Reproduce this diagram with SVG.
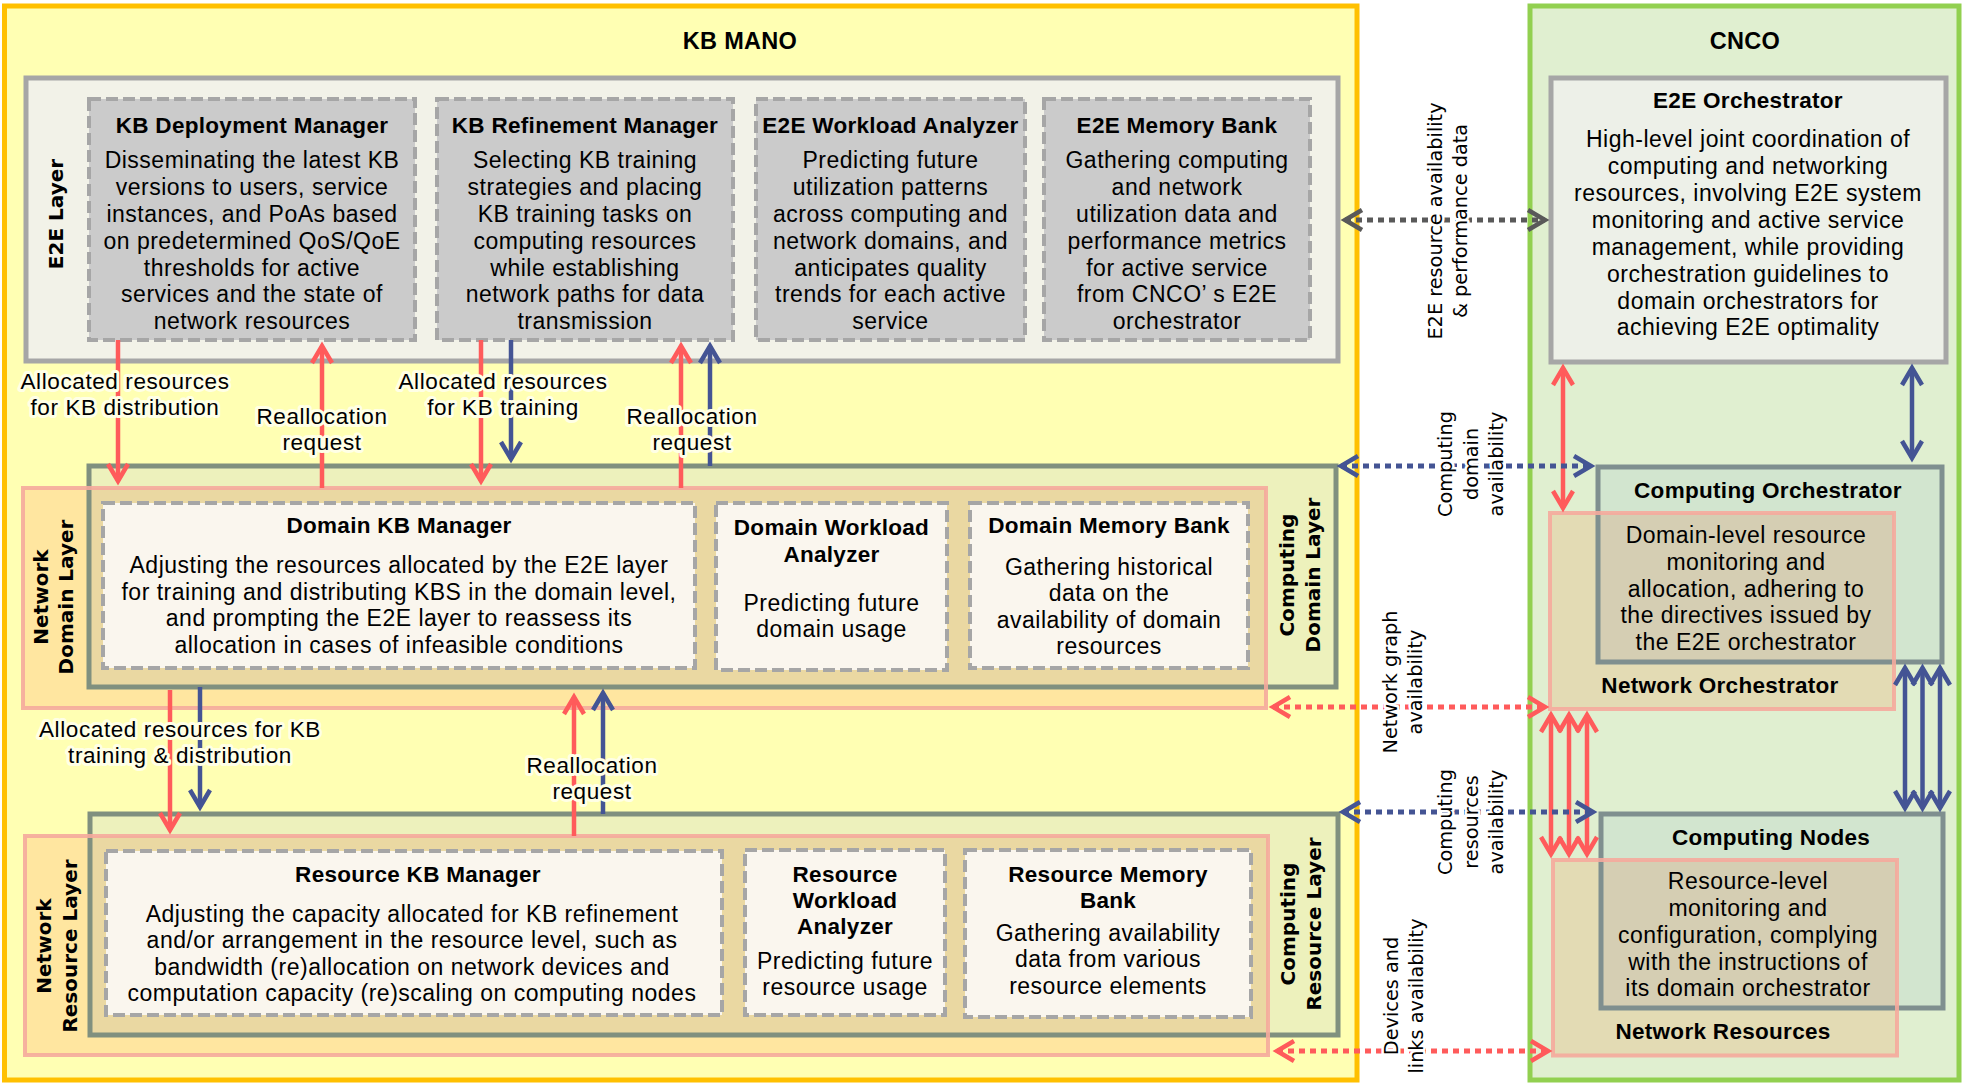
<svg xmlns="http://www.w3.org/2000/svg" width="1964" height="1085" viewBox="0 0 1964 1085">
<defs>
<style>
.t{font-family:"Liberation Sans","Arial",sans-serif;font-size:23px;letter-spacing:0.5px;fill:#000;text-anchor:middle}
.b{font-weight:bold;font-size:22.5px;letter-spacing:0.3px}
.lb{font-size:22.5px;letter-spacing:0.6px}
.big{font-weight:bold;font-size:23.5px;letter-spacing:0.3px}
.v{font-family:"DejaVu Sans","Verdana","Liberation Sans",sans-serif;font-size:19.3px;fill:#000;text-anchor:middle}
.vb{font-weight:bold;font-size:20px}
.hy{stroke:#FFFFE6;stroke-width:6;stroke-linejoin:round;paint-order:stroke}
.hw{stroke:#FFFFFF;stroke-width:5;stroke-linejoin:round;paint-order:stroke}
.gbox{fill:#CBCBCB;stroke:#A6A6A6;stroke-width:4;stroke-dasharray:12 5}
.wbox{fill:#FAF6EE;stroke:#A6A6A6;stroke-width:4;stroke-dasharray:12 5}
.cl{fill:none;stroke:#80907F;stroke-width:5}
.nl{fill:none;stroke:#F5AA9C;stroke-width:4;stroke-opacity:0.9}
.co{fill:none;stroke:#7F8F8F;stroke-width:5}
.r{stroke:#FF5B5B;stroke-width:4.5;fill:none}
.u{stroke:#445494;stroke-width:4.5;fill:none}
.dr{stroke:#FF5B5B;stroke-width:5;fill:none;stroke-dasharray:6 5}
.du{stroke:#445494;stroke-width:5;fill:none;stroke-dasharray:6 5}
.dg{stroke:#595959;stroke-width:5;fill:none;stroke-dasharray:6 5}
</style>
<marker id="mr" viewBox="-22 -14 30 28" refX="0" refY="0" markerWidth="30" markerHeight="28" markerUnits="userSpaceOnUse" orient="auto-start-reverse" overflow="visible"><path d="M-17,-10 L0,0 L-17,10" fill="none" stroke="#FF5B5B" stroke-width="4.5"/></marker>
<marker id="mu" viewBox="-22 -14 30 28" refX="0" refY="0" markerWidth="30" markerHeight="28" markerUnits="userSpaceOnUse" orient="auto-start-reverse" overflow="visible"><path d="M-17,-10 L0,0 L-17,10" fill="none" stroke="#445494" stroke-width="4.5"/></marker>
<marker id="mg" viewBox="-22 -14 30 28" refX="0" refY="0" markerWidth="30" markerHeight="28" markerUnits="userSpaceOnUse" orient="auto-start-reverse" overflow="visible"><path d="M-17,-10 L0,0 L-17,10" fill="none" stroke="#595959" stroke-width="4.5"/></marker>
</defs>
<rect width="1964" height="1085" fill="#FFFFFF"/>

<g id="kb-mano">
<rect x="4.5" y="6" width="1352.5" height="1074" fill="#FFFFB3" stroke="#FFC000" stroke-width="5"/>
<text class="t big" x="740" y="49">KB MANO</text>
</g>

<g id="cnco">
<rect x="1530" y="6" width="429" height="1074" fill="#E0EFD0" stroke="#92D050" stroke-width="5"/>
<text class="t big" x="1745" y="49">CNCO</text>
</g>

<g id="e2e-layer">
<rect x="26" y="78" width="1312" height="283" fill="#F2F2E8" stroke="#A6A6A6" stroke-width="5"/>
<text class="v vb" transform="translate(63,214) rotate(-90)">E2E Layer</text>
</g>

<g id="kb-deployment-manager">
<rect class="gbox" x="89" y="99" width="326" height="241"/>
<text class="t b" x="252" y="133">KB Deployment Manager</text>
<text class="t"><tspan x="252" y="168">Disseminating the latest KB</tspan><tspan x="252" y="195">versions to users, service</tspan><tspan x="252" y="222">instances, and PoAs based</tspan><tspan x="252" y="248.5">on predetermined QoS/QoE</tspan><tspan x="252" y="275.5">thresholds for active</tspan><tspan x="252" y="302">services and the state of</tspan><tspan x="252" y="329">network resources</tspan></text>
</g>

<g id="kb-refinement-manager">
<rect class="gbox" x="437" y="99" width="296" height="241"/>
<text class="t b" x="585" y="133">KB Refinement Manager</text>
<text class="t"><tspan x="585" y="168">Selecting KB training</tspan><tspan x="585" y="195">strategies and placing</tspan><tspan x="585" y="222">KB training tasks on</tspan><tspan x="585" y="248.5">computing resources</tspan><tspan x="585" y="275.5">while establishing</tspan><tspan x="585" y="302">network paths for data</tspan><tspan x="585" y="329">transmission</tspan></text>
</g>

<g id="e2e-workload-analyzer">
<rect class="gbox" x="756" y="99" width="269" height="241"/>
<text class="t b" x="890.5" y="133">E2E Workload Analyzer</text>
<text class="t"><tspan x="890.5" y="168">Predicting future</tspan><tspan x="890.5" y="195">utilization patterns</tspan><tspan x="890.5" y="222">across computing and</tspan><tspan x="890.5" y="248.5">network domains, and</tspan><tspan x="890.5" y="275.5">anticipates quality</tspan><tspan x="890.5" y="302">trends for each active</tspan><tspan x="890.5" y="329">service</tspan></text>
</g>

<g id="e2e-memory-bank">
<rect class="gbox" x="1044" y="99" width="266" height="241"/>
<text class="t b" x="1177" y="133">E2E Memory Bank</text>
<text class="t"><tspan x="1177" y="168">Gathering computing</tspan><tspan x="1177" y="195">and network</tspan><tspan x="1177" y="222">utilization data and</tspan><tspan x="1177" y="248.5">performance metrics</tspan><tspan x="1177" y="275.5">for active service</tspan><tspan x="1177" y="302">from CNCO’  s E2E</tspan><tspan x="1177" y="329">orchestrator</tspan></text>
</g>

<g id="domain-layers">
<rect x="89" y="466" width="1247" height="221" fill="#EDF1BC"/>
<rect x="23" y="488" width="1243" height="220" fill="#FFE6A0"/>
<rect x="89" y="488" width="1177" height="199" fill="#EAD8A2"/>
<rect class="cl" x="89" y="466" width="1247" height="221"/>
<rect class="nl" x="23" y="488" width="1243" height="220"/>
<text class="v vb" transform="translate(0,597) rotate(-90)"><tspan x="0" y="47.5">Network</tspan><tspan x="0" y="73">Domain Layer</tspan></text>
<text class="v vb" transform="translate(0,575) rotate(-90)"><tspan x="0" y="1294">Computing</tspan><tspan x="0" y="1320">Domain Layer</tspan></text>
</g>

<g id="domain-kb-manager">
<rect class="wbox" x="103" y="503" width="592" height="165"/>
<text class="t b" x="399" y="533">Domain KB Manager</text>
<text class="t"><tspan x="399" y="573">Adjusting the resources allocated by the E2E layer</tspan><tspan x="399" y="599.5">for training and distributing KBS in the domain level,</tspan><tspan x="399" y="626">and prompting the E2E layer to reassess its</tspan><tspan x="399" y="652.5">allocation in cases of infeasible conditions</tspan></text>
</g>

<g id="domain-workload-analyzer">
<rect class="wbox" x="716" y="503" width="231" height="167"/>
<text class="t b"><tspan x="831.5" y="535">Domain Workload</tspan><tspan x="831.5" y="561.5">Analyzer</tspan></text>
<text class="t"><tspan x="831.5" y="610.5">Predicting future</tspan><tspan x="831.5" y="637">domain usage</tspan></text>
</g>

<g id="domain-memory-bank">
<rect class="wbox" x="970" y="503" width="278" height="165"/>
<text class="t b" x="1109" y="533">Domain Memory Bank</text>
<text class="t"><tspan x="1109" y="574.5">Gathering historical</tspan><tspan x="1109" y="601">data on the</tspan><tspan x="1109" y="627.5">availability of domain</tspan><tspan x="1109" y="654">resources</tspan></text>
</g>

<g id="resource-layers">
<rect x="90" y="814" width="1248" height="221" fill="#EDF1BC"/>
<rect x="25" y="836" width="1243" height="219" fill="#FFE6A0"/>
<rect x="90" y="836" width="1178" height="199" fill="#EAD8A2"/>
<rect class="cl" x="90" y="814" width="1248" height="221"/>
<rect class="nl" x="25" y="836" width="1243" height="219"/>
<text class="v vb" transform="translate(0,946) rotate(-90)"><tspan x="0" y="51">Network</tspan><tspan x="0" y="76.5">Resource Layer</tspan></text>
<text class="v vb" transform="translate(0,924) rotate(-90)"><tspan x="0" y="1295">Computing</tspan><tspan x="0" y="1321">Resource Layer</tspan></text>
</g>

<g id="resource-kb-manager">
<rect class="wbox" x="106" y="851" width="616" height="164"/>
<text class="t b" x="418" y="882">Resource KB Manager</text>
<text class="t"><tspan x="412" y="921.5">Adjusting the capacity allocated for KB refinement</tspan><tspan x="412" y="948">and/or arrangement in the resource level, such as</tspan><tspan x="412" y="974.5">bandwidth (re)allocation on network devices and</tspan><tspan x="412" y="1001">computation capacity (re)scaling on computing nodes</tspan></text>
</g>

<g id="resource-workload-analyzer">
<rect class="wbox" x="745" y="850" width="200" height="165"/>
<text class="t b"><tspan x="845" y="881.5">Resource</tspan><tspan x="845" y="907.5">Workload</tspan><tspan x="845" y="933.5">Analyzer</tspan></text>
<text class="t"><tspan x="845" y="968.5">Predicting future</tspan><tspan x="845" y="995">resource usage</tspan></text>
</g>

<g id="resource-memory-bank">
<rect class="wbox" x="965" y="850" width="286" height="167"/>
<text class="t b"><tspan x="1108" y="881.5">Resource Memory</tspan><tspan x="1108" y="907.5">Bank</tspan></text>
<text class="t"><tspan x="1108" y="940.5">Gathering availability</tspan><tspan x="1108" y="967">data from various</tspan><tspan x="1108" y="993.5">resource elements</tspan></text>
</g>

<g id="e2e-orchestrator">
<rect x="1551" y="78" width="395" height="284" fill="#EDF0E8" stroke="#A6A6A6" stroke-width="5"/>
<text class="t b" x="1748" y="108">E2E Orchestrator</text>
<text class="t"><tspan x="1748" y="147">High-level joint coordination of</tspan><tspan x="1748" y="174">computing and networking</tspan><tspan x="1748" y="201">resources, involving E2E system</tspan><tspan x="1748" y="228">monitoring and active service</tspan><tspan x="1748" y="255">management, while providing</tspan><tspan x="1748" y="281.5">orchestration guidelines to</tspan><tspan x="1748" y="308.5">domain orchestrators for</tspan><tspan x="1748" y="335">achieving E2E optimality</tspan></text>
</g>

<g id="orchestrators">
<rect x="1598" y="467" width="344" height="195" fill="#D2E5CF"/>
<rect x="1550" y="513" width="344" height="196" fill="#E3DBB4"/>
<rect x="1598" y="513" width="296" height="149" fill="#D5CEB3"/>
<rect class="co" x="1598" y="467" width="344" height="195"/>
<rect class="nl" x="1550" y="513" width="344" height="196"/>
<text class="t b" x="1768" y="498">Computing Orchestrator</text>
<text class="t"><tspan x="1746" y="543">Domain-level resource</tspan><tspan x="1746" y="570">monitoring and</tspan><tspan x="1746" y="596.5">allocation, adhering to</tspan><tspan x="1746" y="623">the directives issued by</tspan><tspan x="1746" y="650">the E2E orchestrator</tspan></text>
<text class="t b" x="1720" y="693">Network Orchestrator</text>
</g>

<g id="nodes-resources">
<rect x="1601" y="814" width="342" height="194" fill="#D2E5CF"/>
<rect x="1553" y="860" width="344" height="195.5" fill="#E3DBB4"/>
<rect x="1601" y="860" width="296" height="148" fill="#D5CEB3"/>
<rect class="co" x="1601" y="814" width="342" height="194"/>
<rect class="nl" x="1553" y="860" width="344" height="195.5"/>
<text class="t b" x="1771" y="845">Computing Nodes</text>
<text class="t"><tspan x="1748" y="889">Resource-level</tspan><tspan x="1748" y="916">monitoring and</tspan><tspan x="1748" y="943">configuration, complying</tspan><tspan x="1748" y="969.5">with the instructions of</tspan><tspan x="1748" y="996">its domain orchestrator</tspan></text>
<text class="t b" x="1723" y="1039">Network Resources</text>
</g>

<g id="connectors">
<line class="r" x1="118" y1="340" x2="118" y2="481" marker-end="url(#mr)"/>
<line class="r" x1="322" y1="488" x2="322" y2="346" marker-end="url(#mr)"/>
<line class="r" x1="481" y1="340" x2="481" y2="481" marker-end="url(#mr)"/>
<line class="u" x1="511" y1="340" x2="511" y2="459" marker-end="url(#mu)"/>
<line class="r" x1="681" y1="488" x2="681" y2="346" marker-end="url(#mr)"/>
<line class="u" x1="710" y1="466" x2="710" y2="346" marker-end="url(#mu)"/>
<line class="r" x1="170" y1="690" x2="170" y2="830" marker-end="url(#mr)"/>
<line class="u" x1="200" y1="687" x2="200" y2="807" marker-end="url(#mu)"/>
<line class="r" x1="574" y1="836" x2="574" y2="697" marker-end="url(#mr)"/>
<line class="u" x1="603" y1="814" x2="603" y2="693" marker-end="url(#mu)"/>
<line class="r" x1="1563" y1="368" x2="1563" y2="508" marker-start="url(#mr)" marker-end="url(#mr)"/>
<line class="u" x1="1912" y1="368" x2="1912" y2="458" marker-start="url(#mu)" marker-end="url(#mu)"/>
<line class="r" x1="1551" y1="715" x2="1551" y2="854" marker-start="url(#mr)" marker-end="url(#mr)"/>
<line class="r" x1="1569" y1="715" x2="1569" y2="854" marker-start="url(#mr)" marker-end="url(#mr)"/>
<line class="r" x1="1587" y1="715" x2="1587" y2="854" marker-start="url(#mr)" marker-end="url(#mr)"/>
<line class="u" x1="1905" y1="668" x2="1905" y2="808" marker-start="url(#mu)" marker-end="url(#mu)"/>
<line class="u" x1="1922.5" y1="668" x2="1922.5" y2="808" marker-start="url(#mu)" marker-end="url(#mu)"/>
<line class="u" x1="1940" y1="668" x2="1940" y2="808" marker-start="url(#mu)" marker-end="url(#mu)"/>
<line class="dg" x1="1345" y1="220" x2="1545" y2="220" marker-start="url(#mg)" marker-end="url(#mg)"/>
<line class="du" x1="1341" y1="466" x2="1591" y2="466" marker-start="url(#mu)" marker-end="url(#mu)"/>
<line class="dr" x1="1273" y1="707" x2="1545" y2="707" marker-start="url(#mr)" marker-end="url(#mr)"/>
<line class="du" x1="1343" y1="812" x2="1593" y2="812" marker-start="url(#mu)" marker-end="url(#mu)"/>
<line class="dr" x1="1277" y1="1051" x2="1548" y2="1051" marker-start="url(#mr)" marker-end="url(#mr)"/>
</g>

<g id="connector-labels">
<text class="t lb hy"><tspan x="125" y="389">Allocated resources</tspan><tspan x="125" y="415">for KB distribution</tspan></text>
<text class="t lb hy"><tspan x="322" y="424">Reallocation</tspan><tspan x="322" y="450">request</tspan></text>
<text class="t lb hy"><tspan x="503" y="389">Allocated resources</tspan><tspan x="503" y="415">for KB training</tspan></text>
<text class="t lb hy"><tspan x="692" y="424">Reallocation</tspan><tspan x="692" y="450">request</tspan></text>
<text class="t lb hy"><tspan x="180" y="737">Allocated resources for KB</tspan><tspan x="180" y="763">training &amp; distribution</tspan></text>
<text class="t lb hy"><tspan x="592" y="773">Reallocation</tspan><tspan x="592" y="799">request</tspan></text>
<text class="v hw" transform="translate(0,221) rotate(-90)"><tspan x="0" y="1442">E2E resource availability</tspan><tspan x="0" y="1467">&amp; performance data</tspan></text>
<text class="v hw" transform="translate(0,464) rotate(-90)"><tspan x="0" y="1452">Computing</tspan><tspan x="0" y="1477.5">domain</tspan><tspan x="0" y="1503">availability</tspan></text>
<text class="v hw" transform="translate(0,682) rotate(-90)"><tspan x="0" y="1397">Network graph</tspan><tspan x="0" y="1422">availability</tspan></text>
<text class="v hw" transform="translate(0,822) rotate(-90)"><tspan x="0" y="1452">Computing</tspan><tspan x="0" y="1477.5">resources</tspan><tspan x="0" y="1503">availability</tspan></text>
<text class="v hw" transform="translate(0,996) rotate(-90)"><tspan x="0" y="1398">Devices and</tspan><tspan x="0" y="1423">links availability</tspan></text>
</g>
</svg>
